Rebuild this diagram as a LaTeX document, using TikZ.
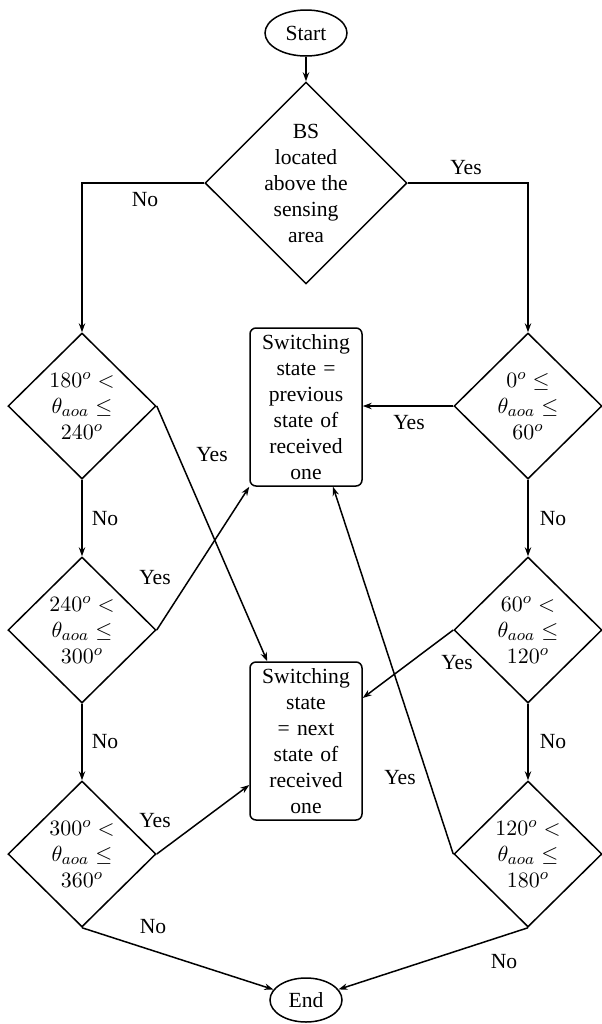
\documentclass[tikz,border=0pt]{standalone}
\usepackage{fontspec}
\setmainfont{Liberation Serif}
\usetikzlibrary{shapes.geometric,arrows.meta,calc}

\begin{document}
\begin{tikzpicture}[x=0.5pt,y=-0.5pt,
  font=\fontsize{10.8}{13}\selectfont,
  line width=0.75pt,
  >={Stealth[length=4.5pt,width=3.2pt]},
  terminal/.style={ellipse,draw,inner sep=0pt},
  decision/.style={diamond,draw,aspect=1,inner sep=0pt,align=center,
                   minimum width=74pt,minimum height=73pt},
  bigdecision/.style={decision,minimum width=101pt,minimum height=100pt},
  action/.style={draw,rounded corners=3pt,align=center,text width=52pt,
                 minimum height=79pt,inner sep=2pt},
  lbl/.style={inner sep=1pt}]

  \useasboundingbox (0,0) rectangle (601,1024);

  % terminals
  \node[terminal,minimum width=41pt,minimum height=23pt] (start) at (306,33) {Start};
  \node[terminal,minimum width=36pt,minimum height=22pt] (end) at (306,1000) {End};

  % first test
  \node[bigdecision] (bs) at (306,183) {BS\\located\\above the\\sensing\\area};

  % left column of angle tests
  \node[decision] (l1) at (82,406) {$180^o <$\\$\theta_{aoa} \leq$\\$240^o$};
  \node[decision] (l2) at (82,630) {$240^o <$\\$\theta_{aoa} \leq$\\$300^o$};
  \node[decision] (l3) at (82,854) {$300^o <$\\$\theta_{aoa} \leq$\\$360^o$};

  % right column of angle tests
  \node[decision] (r1) at (528,406) {$0^o \leq$\\$\theta_{aoa} \leq$\\$60^o$};
  \node[decision] (r2) at (528,630) {$60^o <$\\$\theta_{aoa} \leq$\\$120^o$};
  \node[decision] (r3) at (528,854) {$120^o <$\\$\theta_{aoa} \leq$\\$180^o$};

  % outcomes
  \node[action] (prev) at (306,407) {Switching\\state =\\previous\\state of\\received\\one};
  \node[action] (next) at (306,741) {Switching\\state\\= next\\state of\\received\\one};

  % connectors
  \draw[->] (start) -- (bs);
  \draw[->] (bs.west) -| (l1.north);
  \draw[->] (bs.east) -| (r1.north);

  \draw[->] (l1) -- (l2);
  \draw[->] (l2) -- (l3);
  \draw[->] (r1) -- (r2);
  \draw[->] (r2) -- (r3);

  \draw[->] (l1.east) -- ($(next.north west)+(18,0)$);
  \draw[->] (l2.east) -- (prev.south west);
  \draw[->] (l3.east) -- ($(next.west)+(0,44)$);
  \draw[->] (r1.west) -- (r1.west -| prev.east);
  \draw[->] (r2.west) -- ($(next.east)+(0,-43)$);
  \draw[->] (r3.west) -- ($(prev.south)+(27,0)$);

  \draw[->] (l3.south) -- (end);
  \draw[->] (r3.south) -- (end);

  % branch labels
  \node[lbl] (bsno)  at (145,200) {No};
  \node[lbl] (bsyes) at (466,168) {Yes};
  \node[lbl] (l1yes) at (212,455) {Yes};
  \node[lbl] (l1no)  at (105,519) {No};
  \node[lbl] (l2yes) at (155,578) {Yes};
  \node[lbl] (l2no)  at (105,742) {No};
  \node[lbl] (l3yes) at (155,821) {Yes};
  \node[lbl] (l3no)  at (153,927) {No};
  \node[lbl] (r1yes) at (409,423) {Yes};
  \node[lbl] (r1no)  at (553,519) {No};
  \node[lbl] (r2yes) at (457,663) {Yes};
  \node[lbl] (r2no)  at (553,742) {No};
  \node[lbl] (r3yes) at (400,778) {Yes};
  \node[lbl] (r3no)  at (504,962) {No};
\end{tikzpicture}
\end{document}
